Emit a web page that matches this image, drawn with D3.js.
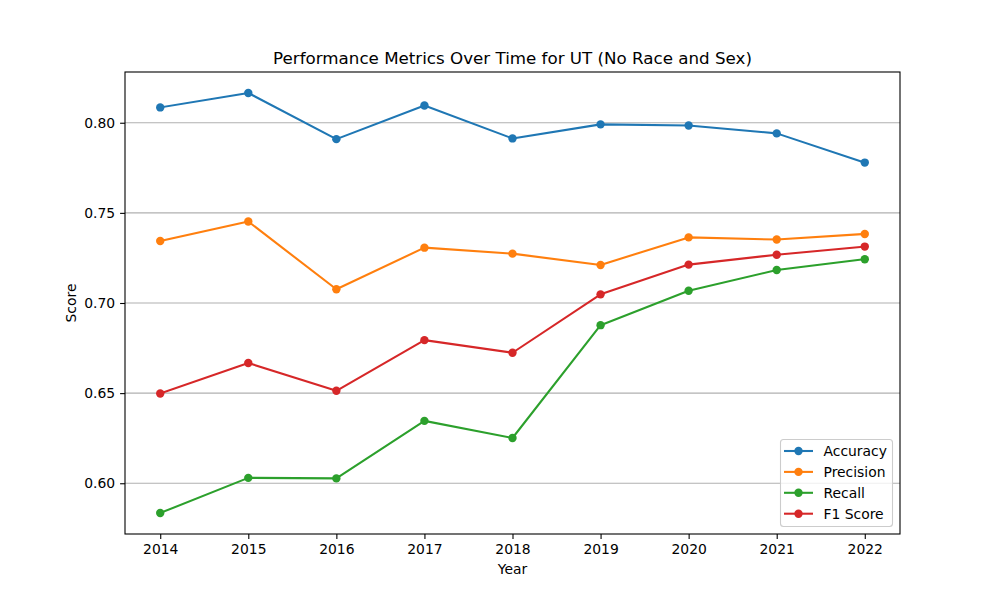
<!DOCTYPE html>
<html><head><meta charset="utf-8">
<script src="https://cdn.jsdelivr.net/npm/d3@7"></script>
<style>body{margin:0;background:#fff;} text{font-family:"DejaVu Sans",sans-serif;}</style>
</head><body><svg id="c" width="1000" height="600"></svg>
<script>
const years = [2014, 2015, 2016, 2017, 2018, 2019, 2020, 2021, 2022];
const accuracy  = [0.8085, 0.8165, 0.7909, 0.8096, 0.7913, 0.7991, 0.7985, 0.7941, 0.7779];
const precision = [0.7344, 0.7452, 0.7076, 0.7307, 0.7274, 0.7211, 0.7364, 0.7352, 0.7383];
const recall    = [0.5835, 0.6030, 0.6027, 0.6346, 0.6251, 0.6877, 0.7068, 0.7183, 0.7243];
const f1score   = [0.6498, 0.6667, 0.6513, 0.6794, 0.6724, 0.7048, 0.7213, 0.7268, 0.7313];
const seriesNames = ["Accuracy", "Precision", "Recall", "F1 Score"];
const yTicks = [0.60, 0.65, 0.70, 0.75, 0.80];
const titleText = "Performance Metrics Over Time for UT (No Race and Sex)";

const colors = ["#1f77b4", "#ff7f0e", "#2ca02c", "#d62728"];
const series = [accuracy, precision, recall, f1score].map((v, i) => ({name: seriesNames[i], values: v, color: colors[i]}));

const svg = d3.select("#c");
const L = 125, R = 900, T = 72, B = 534;

const allVals = [].concat(accuracy, precision, recall, f1score);
const ymin = d3.min(allVals), ymax = d3.max(allVals), yr = ymax - ymin;
const x = d3.scaleLinear().domain([years[0] - 0.4, years[years.length - 1] + 0.4]).range([L, R]);
const y = d3.scaleLinear().domain([ymin - 0.05 * yr, ymax + 0.05 * yr]).range([B, T]);

// grid
svg.append("g").selectAll("line").data(yTicks).join("line")
  .attr("x1", L).attr("x2", R)
  .attr("y1", d => y(d)).attr("y2", d => y(d))
  .attr("stroke", "#b0b0b0").attr("stroke-width", 1.1);

// lines
const line = d3.line().x((d, i) => x(years[i])).y(d => y(d));
series.forEach(s => {
  svg.append("path").datum(s.values).attr("d", line)
    .attr("fill", "none").attr("stroke", s.color).attr("stroke-width", 2.08)
    .attr("stroke-linejoin", "round").attr("stroke-linecap", "square");
  svg.append("g").selectAll("circle").data(s.values).join("circle")
    .attr("cx", (d, i) => x(years[i])).attr("cy", d => y(d)).attr("r", 4.2)
    .attr("fill", s.color);
});

// axes
const xAxis = d3.axisBottom(x).tickValues(years).tickFormat(d3.format("d")).tickSize(4.9).tickPadding(4.9);
const yAxis = d3.axisLeft(y).tickValues(yTicks).tickFormat(d3.format(".2f")).tickSize(4.9).tickPadding(4.9);
const gx = svg.append("g").attr("transform", `translate(0,${B})`).call(xAxis);
const gy = svg.append("g").attr("transform", `translate(${L},0)`).call(yAxis);
[gx, gy].forEach(g => {
  g.select(".domain").remove();
  g.selectAll(".tick line").attr("stroke", "#000").attr("stroke-width", 1.1);
  g.selectAll(".tick text").attr("fill", "#000").style("font-size", "13.9px").style("font-family", "DejaVu Sans");
});

// frame
svg.append("rect").attr("x", L).attr("y", T).attr("width", R - L).attr("height", B - T)
  .attr("fill", "none").attr("stroke", "#000").attr("stroke-width", 1.1);

// labels
svg.append("text").attr("x", (L + R) / 2).attr("y", 64).attr("text-anchor", "middle")
  .style("font-size", "16.7px").text(titleText);
svg.append("text").attr("x", (L + R) / 2).attr("y", 574).attr("text-anchor", "middle")
  .style("font-size", "13.9px").text("Year");
svg.append("text").attr("transform", `translate(76,${(T + B) / 2}) rotate(-90)`).attr("text-anchor", "middle")
  .style("font-size", "13.9px").text("Score");

// legend
const lg = svg.append("g");
lg.append("rect").attr("x", 780.5).attr("y", 439.5).attr("width", 112).attr("height", 87)
  .attr("rx", 3).attr("fill", "#fff").attr("fill-opacity", 0.8).attr("stroke", "#cccccc").attr("stroke-width", 1.1);
series.forEach((s, i) => {
  const yy = 451 + i * 20.9;
  lg.append("line").attr("x1", 784).attr("x2", 813).attr("y1", yy).attr("y2", yy)
    .attr("stroke", s.color).attr("stroke-width", 2.08);
  lg.append("circle").attr("cx", 798.5).attr("cy", yy).attr("r", 4.2).attr("fill", s.color);
  lg.append("text").attr("x", 823.5).attr("y", yy + 5).style("font-size", "13.9px").text(s.name);
});
</script></body></html>
